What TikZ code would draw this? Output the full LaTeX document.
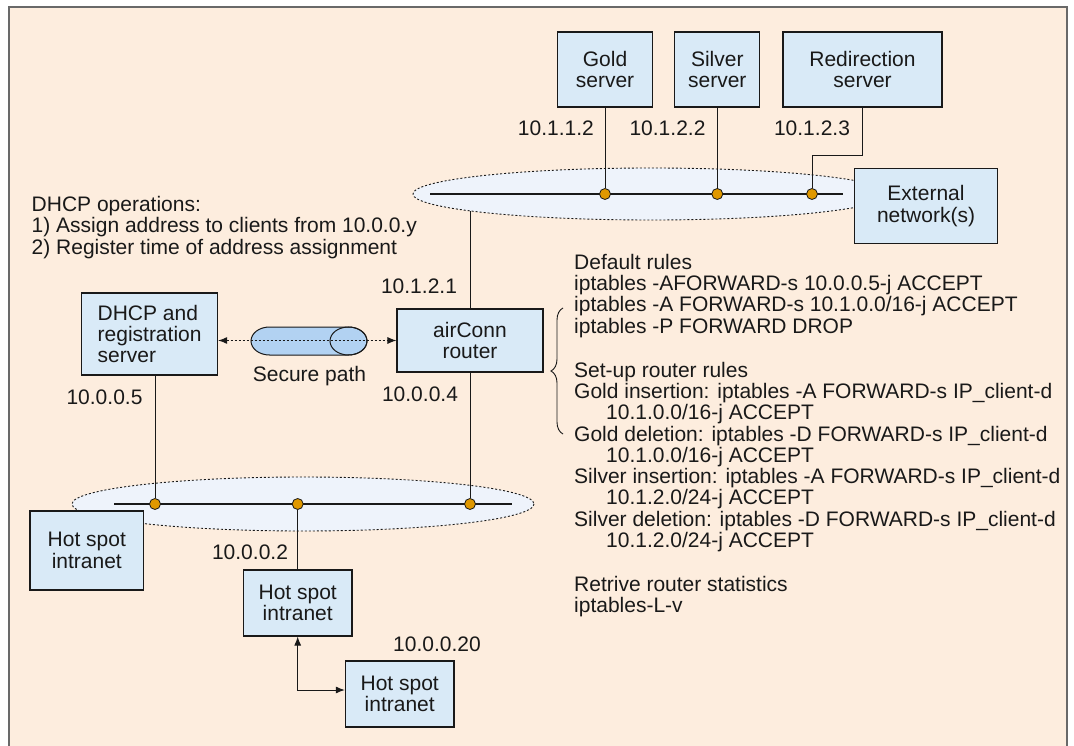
\documentclass[tikz,border=0pt]{standalone}
\usepackage{fontspec}
\setmainfont{Liberation Sans}
\usetikzlibrary{arrows.meta,decorations.pathreplacing}

\definecolor{panel}{RGB}{253,237,222}
\definecolor{framegray}{RGB}{105,105,105}
\definecolor{boxfill}{RGB}{217,234,247}
\definecolor{lanfill}{RGB}{238,243,251}
\definecolor{tapfill}{RGB}{224,152,0}
\definecolor{tunnel}{RGB}{178,210,242}
\definecolor{ink}{RGB}{25,25,25}

\begin{document}
\begin{tikzpicture}[x=1pt,y=-1pt,
  every node/.style={text=ink},
  font=\fontsize{21}{21.3}\selectfont,
  box/.style={draw=ink, line width=1.1pt, fill=boxfill, align=center, inner sep=0pt},
  lbl/.style={inner sep=0pt},
  tap/.style={circle, draw=ink, fill=tapfill, line width=0.8pt, minimum size=11pt, inner sep=0pt},
  lan/.style={draw=ink, dash pattern=on 2pt off 2pt, line width=0.9pt, fill=lanfill},
  bus/.style={draw=ink, line width=2.6pt},
  wire/.style={draw=ink, line width=1pt},
  tip/.style={{Latex[length=9pt,width=7pt]}-{Latex[length=9pt,width=7pt]}}
]
\useasboundingbox (0,0) rectangle (1074,746);

% panel
\fill[panel] (9,7) rectangle (1067,746);
\draw[framegray, line width=1.3pt] (9,746) -- (9,7) -- (1067,7) -- (1067,746);

% external LAN segment
\draw[lan] (651,194) ellipse [x radius=238, y radius=26];
\draw[bus] (430,194) -- (843,194);

% hot spot LAN segment
\draw[lan] (303,504) ellipse [x radius=231, y radius=27];
\draw[bus] (114,504) -- (512,504);

% servers and hosts
\node[box, minimum width=95pt,  minimum height=75pt] (gold)   at (605,69.5)  {Gold\\server};
\node[box, minimum width=85pt,  minimum height=75pt] (silver) at (717.3,69.5) {Silver\\server};
\node[box, minimum width=159pt, minimum height=75pt] (redir)  at (862.5,69.5) {Redirection\\server};
\node[box, minimum width=143pt, minimum height=75pt] (ext)    at (926,206)   {External\\network(s)};
\node[box, minimum width=136pt, minimum height=82pt, align=left] (dhcp) at (149.6,334) {DHCP and\\registration\\server};
\node[box, minimum width=146pt, minimum height=63pt] (router) at (470,340.5) {airConn\\router};
\node[box, minimum width=113.6pt, minimum height=79pt] (hs1) at (86.8,550.5) {Hot spot\\intranet};
\node[box, minimum width=108.5pt, minimum height=66pt] (hs2) at (297.7,603) {Hot spot\\intranet};
\node[box, minimum width=108.6pt, minimum height=66pt] (hs3) at (399.7,694) {Hot spot\\intranet};

% attachment points
\coordinate (rbend) at (862.5,156);
\coordinate (rup) at (470,211);
\coordinate (turn) at (297.7,690);

% taps on the segments
\node[tap] (tg)  at (605,194) {};
\node[tap] (ts)  at (717.3,194) {};
\node[tap] (tr)  at (812,194) {};
\node[tap] (td)  at (155,504) {};
\node[tap] (tm)  at (297.7,504) {};
\node[tap] (tro) at (470,504) {};

% wiring
\draw[wire] (gold.south) -- (tg);
\draw[wire] (silver.south) -- (ts);
\draw[wire] (redir.south) -- (rbend) -| (tr);
\draw[wire] (router.north) -- (rup);
\draw[wire] (td |- dhcp.south) -- (td);
\draw[wire] (router.south) -- (tro);
\draw[wire] (tm) -- (hs2.north);
\draw[wire, tip] (hs2.south) -- (turn) -- (hs3.west |- turn);

% secure path tunnel
\fill[tunnel] (269.5,327) -- (348.5,327)
  arc[start angle=-90, end angle=90, x radius=18.5, y radius=14]
  -- (269.5,355)
  arc[start angle=90, end angle=270, x radius=18.5, y radius=14] -- cycle;
\draw[ink, line width=1pt] (269.5,327) -- (348.5,327)
  arc[start angle=-90, end angle=90, x radius=18.5, y radius=14]
  -- (269.5,355)
  arc[start angle=90, end angle=270, x radius=18.5, y radius=14] -- cycle;
\draw[ink, line width=1pt] (348.5,341) ellipse [x radius=18.5, y radius=14];
\draw[wire, dash pattern=on 2pt off 2pt, tip] (dhcp.east |- router.west) -- (router.west);

% address labels
\node[lbl, anchor=east] (a1) at (594,128.5) {10.1.1.2};
\node[lbl] (a2) at (667.5,128.5) {10.1.2.2};
\node[lbl] (a3) at (812,128.5) {10.1.2.3};
\node[lbl] (a4) at (419,286.5) {10.1.2.1};
\node[lbl] (a5) at (104.5,397) {10.0.0.5};
\node[lbl] (a6) at (420,394) {10.0.0.4};
\node[lbl] (a7) at (250,552.5) {10.0.0.2};
\node[lbl] (a8) at (437,644) {10.0.0.20};
\node[lbl, anchor=base] (sp) at (309.5,381) {Secure path};

% DHCP notes (anchored at the baseline of the last line)
\node[lbl, anchor=base west, align=left] (ops) at (31.5,254.3)
  {DHCP operations:\\1) Assign address to clients from 10.0.0.y\\2) Register time of address assignment};

% router rules (anchored at the baseline of the last line)
\draw[ink, line width=0.9pt, decorate, decoration={brace, amplitude=12pt}]
  (563,434) -- (563,308);
\node[lbl, anchor=base west, align=left] (rules) at (574,612.8)
  {Default rules\\
   iptables -AFORWARD-s 10.0.0.5-j ACCEPT\\
   iptables -A FORWARD-s 10.1.0.0/16-j ACCEPT\\
   iptables -P FORWARD DROP\\
   \strut\\
   Set-up router rules\\
   Gold insertion: iptables -A FORWARD-s IP\_client-d\\
   \hspace*{32pt}10.1.0.0/16-j ACCEPT\\
   Gold deletion: iptables -D FORWARD-s IP\_client-d\\
   \hspace*{32pt}10.1.0.0/16-j ACCEPT\\
   Silver insertion: iptables -A FORWARD-s IP\_client-d\\
   \hspace*{32pt}10.1.2.0/24-j ACCEPT\\
   Silver deletion: iptables -D FORWARD-s IP\_client-d\\
   \hspace*{32pt}10.1.2.0/24-j ACCEPT\\
   \strut\\
   Retrive router statistics\\
   iptables-L-v};
\end{tikzpicture}
\end{document}
